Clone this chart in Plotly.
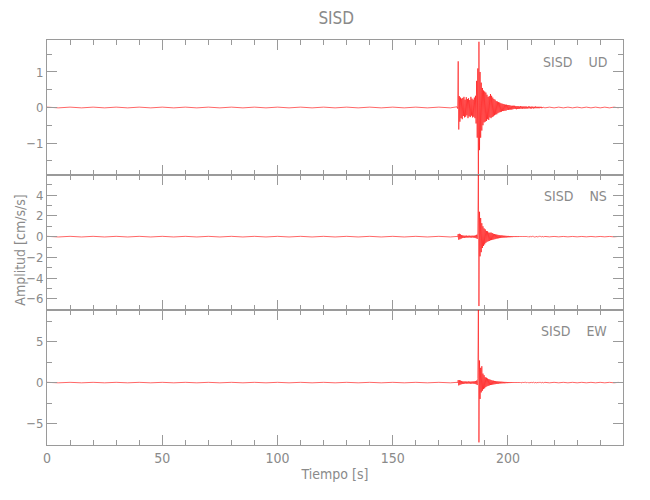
import numpy as np
import plotly.graph_objects as go

# ---- data ----
station = "SISD"
components = ["UD", "NS", "EW"]

# time grids (s): pre-event every 5 s, event every 0.25 s, post-event every 2 s
t_pre = np.arange(0, 176, 5)            # 36 samples
t_evt = 177.9 + 0.25 * np.arange(151)   # 177.9 .. 215.4
t_post = np.arange(216, 250, 2)         # 17 samples

ud_pre = [0.01, -0.01, 0.01, -0.01, 0.01, -0.01, 0.01, -0.01, 0.01, -0.01, 0.01, -0.01,
          0.01, -0.01, 0.01, -0.01, 0.01, -0.01, 0.01, -0.01, 0.01, -0.01, 0.01, -0.01,
          0.01, -0.01, 0.01, -0.01, 0.01, -0.01, 0.01, -0.01, 0.01, -0.01, 0.01, -0.01]
ud_evt = [0.02, -0.03, 1.30, -0.62, 0.32, -0.40, 0.28, -0.30, 0.25, -0.33,
          0.27, -0.24, 0.30, -0.28, 0.22, -0.26, 0.29, -0.22, 0.24, -0.30,
          0.26, -0.25, 0.21, -0.27, 0.30, -0.23, 0.25, -0.28, 0.22, -0.26,
          0.28, -0.30, 0.33, -0.45, 0.75, -0.85, 1.10, -1.90, 1.85, -1.20,
          1.00, -0.85, 0.70, -0.65, 0.55, -0.50, 0.48, -0.42, 0.45, -0.40,
          0.42, -0.38, 0.36, -0.33, 0.30, -0.35, 0.32, -0.28, 0.38, -0.30,
          0.33, -0.27, 0.28, -0.25, 0.24, -0.22, 0.22, -0.20, 0.18, -0.19,
          0.17, -0.16, 0.15, -0.14, 0.14, -0.13, 0.12, -0.12, 0.11, -0.10,
          0.10, -0.10, 0.09, -0.09, 0.08, -0.09, 0.08, -0.07, 0.07, -0.07,
          0.07, -0.06, 0.06, -0.06, 0.05, -0.06, 0.05, -0.05, 0.05, -0.04,
          0.05, -0.04, 0.04, -0.05, 0.04, -0.04, 0.04, -0.04, 0.03, -0.04,
          0.04, -0.03, 0.03, -0.04, 0.03, -0.03, 0.03, -0.03, 0.03, -0.03,
          0.03, -0.03, 0.02, -0.03, 0.03, -0.02, 0.03, -0.03, 0.02, -0.03,
          0.03, -0.02, 0.02, -0.03, 0.02, -0.02, 0.03, -0.02, 0.02, -0.02,
          0.02, -0.02, 0.02, -0.02, 0.02, -0.01, 0.02, -0.02, 0.01, -0.01, 0.01]
ud_post = [-0.01, 0.01, -0.01, 0.01, -0.01, 0.01, -0.01, 0.01, -0.01,
           0.01, -0.01, 0.01, -0.01, 0.01, -0.01, 0.01, -0.01]

ns_pre = [0.03, -0.03, 0.03, -0.03, 0.03, -0.03, 0.03, -0.03, 0.03, -0.03, 0.03, -0.03,
          0.03, -0.03, 0.03, -0.03, 0.03, -0.03, 0.03, -0.03, 0.03, -0.03, 0.03, -0.03,
          0.03, -0.03, 0.03, -0.03, 0.03, -0.03, 0.03, -0.03, 0.03, -0.03, 0.03, -0.03]
ns_evt = [0.02, -0.03, 0.25, -0.30, 0.28, -0.25, 0.22, -0.20, 0.15, -0.14,
          0.12, -0.11, 0.10, -0.12, 0.09, -0.10, 0.11, -0.09, 0.08, -0.10,
          0.09, -0.08, 0.10, -0.09, 0.08, -0.09, 0.10, -0.08, 0.09, -0.10,
          0.10, -0.12, 0.12, -0.15, 0.18, -0.22, 0.35, 6.50, -6.70, 2.40,
          -1.90, 1.80, -1.50, 1.30, -1.10, 1.00, -0.90, 0.80, -0.75, 0.70,
          -0.60, 0.55, -0.50, 0.52, -0.45, 0.40, -0.42, 0.38, -0.35, 0.40,
          -0.33, 0.35, -0.30, 0.28, -0.27, 0.25, -0.24, 0.22, -0.20, 0.20,
          -0.18, 0.17, -0.16, 0.15, -0.14, 0.13, -0.13, 0.12, -0.11, 0.11,
          -0.10, 0.10, -0.09, 0.09, -0.08, 0.08, -0.08, 0.07, -0.07, 0.07,
          -0.06, 0.06, -0.06, 0.05, -0.05, 0.05, -0.05, 0.05, -0.04, 0.04,
          -0.04, 0.04, -0.04, 0.04, -0.04, 0.03, -0.04, 0.04, -0.03, 0.03,
          -0.03, 0.04, -0.03, 0.03, -0.03, 0.03, -0.03, 0.03, -0.03, 0.03,
          -0.03, 0.03, -0.03, 0.02, -0.03, 0.03, -0.02, 0.03, -0.03, 0.02,
          -0.02, 0.03, -0.02, 0.02, -0.03, 0.02, -0.02, 0.02, -0.02, 0.02,
          -0.02, 0.02, -0.02, 0.03, -0.02, 0.02, -0.02, 0.02, -0.02, 0.02, -0.02]
ns_post = [0.02, -0.02, 0.02, -0.02, 0.02, -0.02, 0.02, -0.02, 0.02,
           -0.02, 0.02, -0.02, 0.02, -0.02, 0.02, -0.02, 0.02]

ew_pre = [0.03, -0.03, 0.03, -0.03, 0.03, -0.03, 0.03, -0.03, 0.03, -0.03, 0.03, -0.03,
          0.03, -0.03, 0.03, -0.03, 0.03, -0.03, 0.03, -0.03, 0.03, -0.03, 0.03, -0.03,
          0.03, -0.03, 0.03, -0.03, 0.03, -0.03, 0.03, -0.03, 0.03, -0.03, 0.03, -0.03]
ew_evt = [0.03, -0.04, 0.30, -0.35, 0.30, -0.28, 0.25, -0.22, 0.20, -0.18,
          0.15, -0.16, 0.14, -0.13, 0.15, -0.12, 0.13, -0.14, 0.12, -0.13,
          0.14, -0.12, 0.13, -0.15, 0.12, -0.13, 0.14, -0.12, 0.15, -0.14,
          0.15, -0.16, 0.18, -0.20, 0.25, -0.30, 0.50, 9.00, -7.30, 2.70,
          -2.00, 1.80, -1.20, 2.00, -1.00, 1.10, -0.80, 0.90, -0.70, 0.65,
          -0.55, 0.60, -0.45, 0.50, -0.40, 0.42, -0.35, 0.38, -0.30, 0.32,
          -0.28, 0.26, -0.25, 0.24, -0.22, 0.20, -0.20, 0.18, -0.17, 0.16,
          -0.15, 0.15, -0.14, 0.13, -0.12, 0.12, -0.11, 0.11, -0.10, 0.10,
          -0.09, 0.09, -0.09, 0.08, -0.08, 0.08, -0.07, 0.07, -0.07, 0.06,
          -0.06, 0.06, -0.06, 0.05, -0.05, 0.05, -0.05, 0.05, -0.04, 0.05,
          -0.04, 0.04, -0.04, 0.05, -0.04, 0.04, -0.04, 0.04, -0.04, 0.04,
          -0.04, 0.04, -0.03, 0.04, -0.04, 0.03, -0.04, 0.04, -0.03, 0.04,
          -0.03, 0.03, -0.04, 0.03, -0.03, 0.04, -0.03, 0.03, -0.03, 0.03,
          -0.03, 0.03, -0.03, 0.04, -0.03, 0.03, -0.03, 0.03, -0.03, 0.03,
          -0.03, 0.03, -0.03, 0.03, -0.04, 0.03, -0.03, 0.03, -0.03, 0.03, -0.03]
ew_post = [0.03, -0.03, 0.03, -0.03, 0.03, -0.03, 0.03, -0.03, 0.03,
           -0.03, 0.03, -0.03, 0.03, -0.03, 0.03, -0.03, 0.03]

y_ranges = [[-1.9, 1.9], [-7.08, 5.95], [-7.62, 8.86]]
y_major = [1, 2, 5]
y_minor = [0.5, 1, 2.5]
x_range = [0, 249.9]

# ---- figure ----
FONT = "DejaVu Sans Condensed, Liberation Sans Narrow, Arial Narrow, sans-serif"
GREY = "#8a8a8a"
AX = "#9a9a9a"

t_all = np.concatenate([t_pre, t_evt, t_post])
series = [ud_pre + ud_evt + ud_post, ns_pre + ns_evt + ns_post, ew_pre + ew_evt + ew_post]

fig = go.Figure()
axes = ["", "2", "3"]
for i, vals in enumerate(series):
    fig.add_trace(go.Scatter(x=t_all, y=vals, mode="lines",
                             line=dict(color="#ff0000", width=0.6),
                             xaxis="x" + axes[i], yaxis="y" + axes[i],
                             showlegend=False, hoverinfo="skip"))

domains = [[2/3, 1.0], [1/3, 2/3], [0.0, 1/3]]
layout = dict(
    width=650, height=500,
    margin=dict(l=39, r=35, t=32, b=63),
    paper_bgcolor="white", plot_bgcolor="white",
    font=dict(family=FONT, color=GREY, size=13),
    title=dict(text=station, x=0.505, xanchor="center", y=0.98, yanchor="middle",
               font=dict(family=FONT, color=GREY, size=17)),
)
for i in range(3):
    xa = dict(range=x_range, domain=[0, 1], anchor="y" + axes[i], automargin=False,
              showline=True, linecolor=AX, linewidth=1, mirror="allticks",
              ticks="inside", ticklen=10, tickcolor=AX, dtick=50, tick0=0,
              minor=dict(dtick=10, ticklen=5, ticks="inside", tickcolor=AX),
              showgrid=False, zeroline=False,
              showticklabels=(i == 2), tickfont=dict(size=14, color=GREY))
    if i == 2:
        xa["title"] = dict(text="Tiempo [s]", font=dict(size=14, color=GREY), standoff=4)
    else:
        xa["matches"] = "x3"
    ya = dict(range=y_ranges[i], domain=domains[i], anchor="x" + axes[i], automargin=False,
              showline=True, linecolor=AX, linewidth=1, mirror="allticks",
              ticks="inside", ticklen=10, tickcolor=AX, dtick=y_major[i], tick0=0,
              minor=dict(dtick=y_minor[i], ticklen=5, ticks="inside", tickcolor=AX),
              showgrid=False, zeroline=False, tickfont=dict(size=13, color=GREY))
    layout["xaxis" + axes[i]] = xa
    layout["yaxis" + axes[i]] = ya

label_y = [0.9456, 0.614, 0.2806]
ann = []
for i, comp in enumerate(components):
    ann.append(dict(text=station + "\u00a0\u00a0\u00a0\u00a0" + comp, xref="paper", yref="paper",
                    x=0.975, y=label_y[i], xanchor="right", yanchor="middle",
                    showarrow=False, font=dict(size=14, color=GREY)))
ann.append(dict(text="Amplitud [cm/s/s]", xref="paper", yref="paper", x=-0.046, y=0.481,
                xanchor="center", yanchor="middle", textangle=-90, showarrow=False,
                font=dict(size=14, color=GREY)))
layout["annotations"] = ann

fig.update_layout(**layout)
fig.write_html("out.html")
